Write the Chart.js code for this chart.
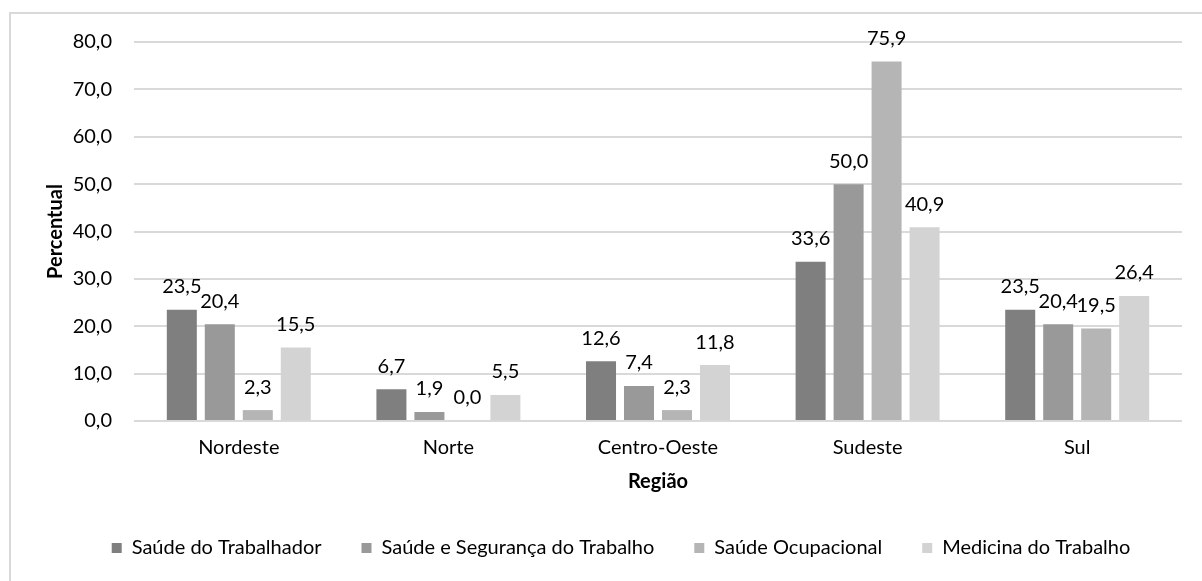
<!DOCTYPE html>
<html lang="pt-BR">
<head>
<meta charset="utf-8">
<script src="https://cdn.jsdelivr.net/npm/chart.js@4"></script>
<style>
  html, body { margin: 0; padding: 0; background: #fff; }
  body { width: 1202px; height: 581px; position: relative; overflow: hidden; }
  #frame { position: absolute; left: 9px; top: 12px; width: 1210px; height: 600px; border: 2px solid #d9d9d9; box-sizing: border-box; }
  #chart { position: absolute; left: 0; top: 0; }
</style>
</head>
<body>
<div id="frame"></div>
<canvas id="chart" width="1202" height="581"></canvas>
<script>
// Regions (x axis categories)
const regioes = ['Nordeste', 'Norte', 'Centro-Oeste', 'Sudeste', 'Sul'];

// Percentages per term
const saudeTrabalhador = [23.5, 6.7, 12.6, 33.6, 23.5];
const saudeSeguranca = [20.4, 1.9, 7.4, 50.0, 20.4];
const saudeOcupacional = [2.3, 0.0, 2.3, 75.9, 19.5];
const medicinaTrabalho = [15.5, 5.5, 11.8, 40.9, 26.4];

const serieNomes = ['Saúde do Trabalhador', 'Saúde e Segurança do Trabalho', 'Saúde Ocupacional', 'Medicina do Trabalho'];
const serieCores = ['#7f7f7f', '#999999', '#b5b5b5', '#d3d3d3'];

// Y axis ticks
const yMin = 0, yMax = 80, yStep = 10;

const fmt = v => v.toFixed(1).replace('.', ',');

const FONT = 'Lato, "Open Sans", sans-serif';
Chart.defaults.font.family = FONT;
Chart.defaults.font.size = 20;
Chart.defaults.color = '#000';

// Value labels above each bar
const valueLabels = {
  id: 'valueLabels',
  afterDatasetsDraw(chart) {
    const ctx = chart.ctx;
    ctx.save();
    ctx.font = '20px ' + FONT;
    ctx.fillStyle = '#000';
    ctx.textAlign = 'center';
    ctx.textBaseline = 'middle';
    chart.data.datasets.forEach((ds, i) => {
      const meta = chart.getDatasetMeta(i);
      meta.data.forEach((bar, j) => {
        ctx.fillText(fmt(ds.data[j]), bar.x, bar.y - 23);
      });
    });
    ctx.restore();
  }
};

const seriesData = [saudeTrabalhador, saudeSeguranca, saudeOcupacional, medicinaTrabalho];

new Chart(document.getElementById('chart'), {
  type: 'bar',
  data: {
    labels: regioes,
    datasets: seriesData.map((d, i) => ({
      label: serieNomes[i],
      data: d,
      backgroundColor: serieCores[i],
      borderWidth: 0,
      categoryPercentage: 0.725,
      barPercentage: 0.79
    }))
  },
  options: {
    responsive: false,
    animation: false,
    layout: { padding: { left: 60, right: 20, top: 42, bottom: 13 } },
    plugins: {
      tooltip: { enabled: false },
      legend: {
        position: 'bottom',
        labels: {
          boxWidth: 10,
          boxHeight: 10,
          padding: 40,
          color: '#000',
          font: { size: 20 }
        }
      }
    },
    scales: {
      x: {
        grid: { display: false },
        border: { display: false },
        ticks: { padding: 7, color: '#000' },
        title: {
          display: true,
          text: 'Região',
          font: { size: 20, weight: 'bold' },
          color: '#000',
          padding: { top: 0, bottom: 4 }
        },
        afterFit(scale) { scale.height = 77; }
      },
      y: {
        min: yMin,
        max: yMax,
        ticks: {
          stepSize: yStep,
          padding: 22,
          color: '#000',
          callback: v => fmt(v)
        },
        grid: { color: '#d9d9d9', lineWidth: 2, drawTicks: false },
        border: { display: false },
        title: {
          display: true,
          text: 'Percentual',
          font: { size: 20, weight: 'bold' },
          color: '#000',
          padding: { top: -16, bottom: 0 }
        },
        afterFit(scale) { scale.width = 74; }
      }
    }
  },
  plugins: [valueLabels]
});
</script>
</body>
</html>
